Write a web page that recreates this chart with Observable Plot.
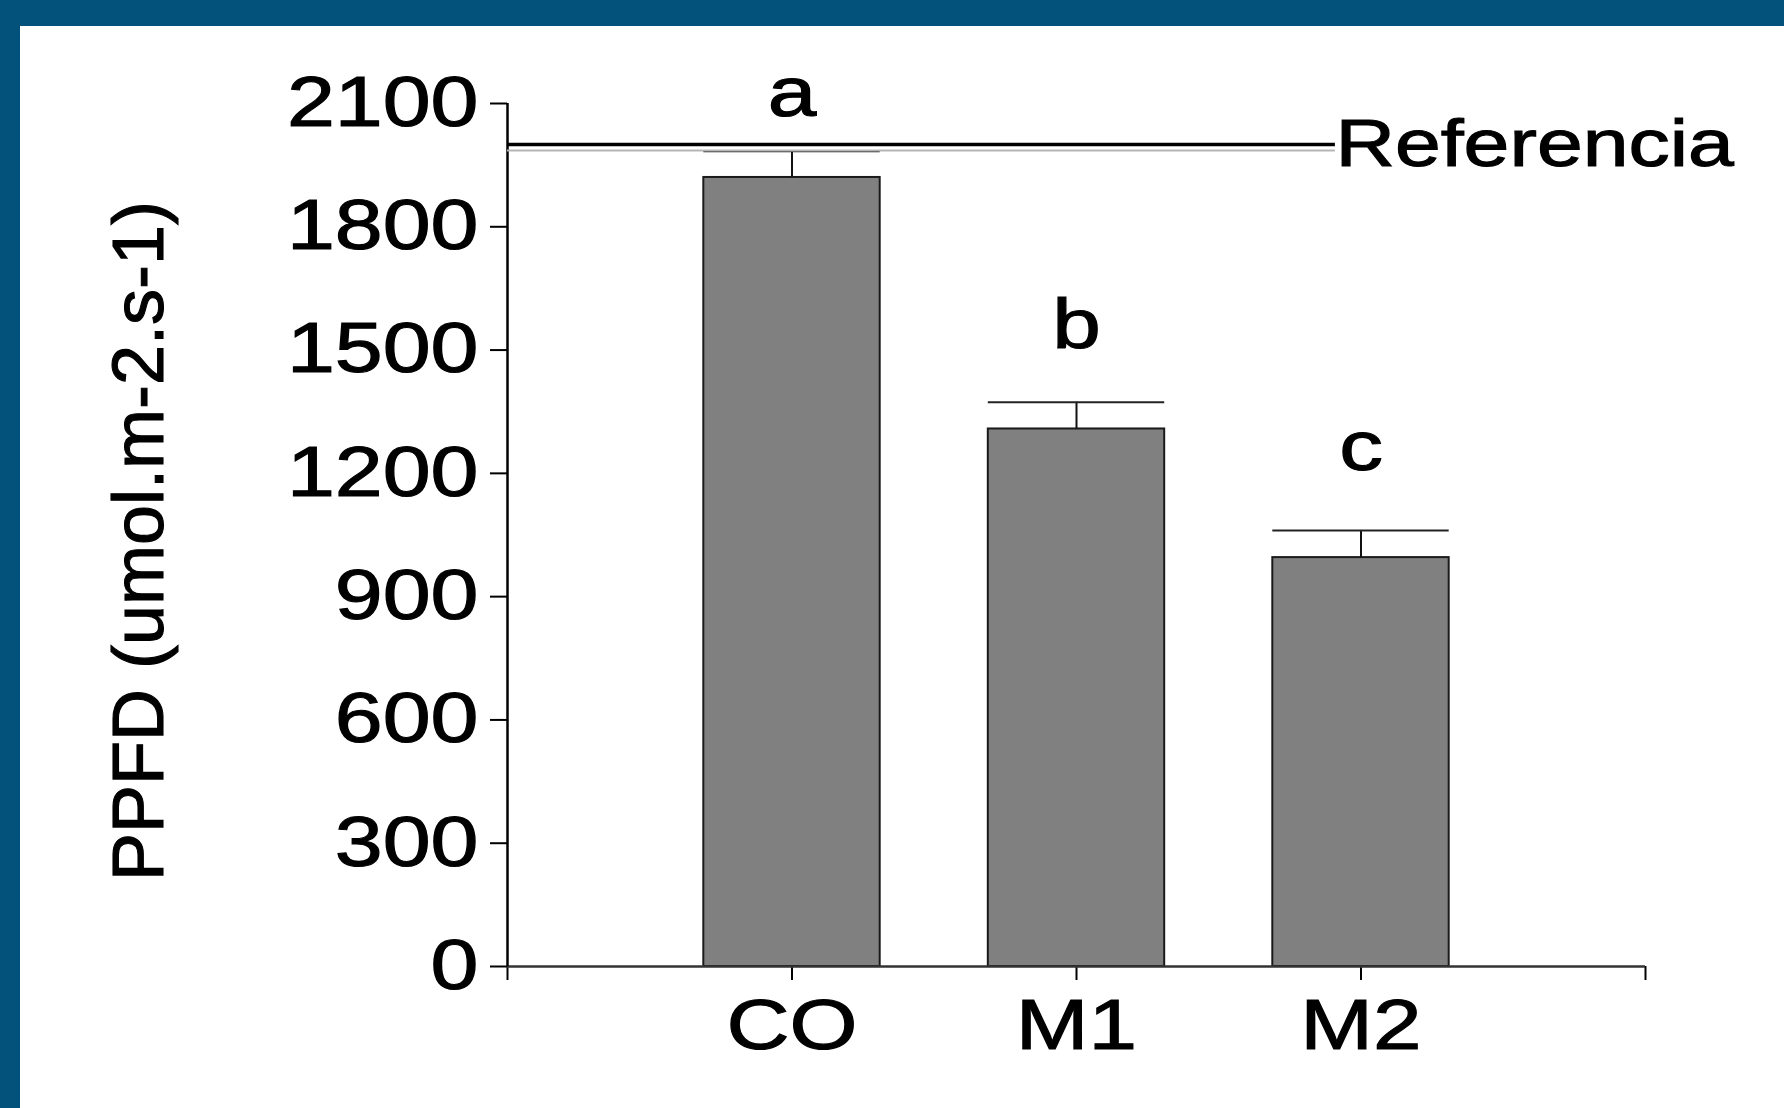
<!DOCTYPE html>
<html>
<head>
<meta charset="utf-8">
<script src="https://cdn.jsdelivr.net/npm/d3@7"></script>
<script src="https://cdn.jsdelivr.net/npm/@observablehq/plot@0.6"></script>
<style>
  html, body { margin: 0; padding: 0; background: #ffffff; }
  #page { position: relative; width: 1784px; height: 1108px; background: #ffffff; overflow: hidden; }
  #bandTop { position: absolute; left: 0; top: 0; width: 1784px; height: 26px; background: #02527b; }
  #bandLeft { position: absolute; left: 0; top: 0; width: 20px; height: 1108px; background: #02527b; }
  #chart { position: absolute; left: 0; top: 0; }
  #chart text { stroke: #000; stroke-width: 1.1px; }
</style>
</head>
<body>
<div id="page">
  <div id="bandTop"></div>
  <div id="bandLeft"></div>
  <div id="chart"></div>
</div>
<script>
// ---- data ----
const categories = ["CO", "M1", "M2"];
const means = [1920, 1308, 995];
const errors = [64, 65, 66];
const letters = ["a", "b", "c"];
const letterY = [2125, 1561, 1263];
const yTicks = [0, 300, 600, 900, 1200, 1500, 1800, 2100];
const xTicks = [0, 1, 2, 3, 4];
const refValue = 2000;
const refLabel = "Referencia";
const refEnd = 2.91;
const yLabel = "PPFD (umol.m-2.s-1)";

// ---- table built from the arrays ----
const data = categories.map((c, i) => ({
  cat: c, pos: i + 1, mean: means[i], se: errors[i], letter: letters[i], ly: letterY[i]
}));
const half = 0.31; // half bar width in x units (style)

const chart = Plot.plot({
  width: 1784,
  height: 1108,
  marginLeft: 507,
  marginRight: 139,
  marginTop: 103,
  marginBottom: 142,
  style: { background: "transparent", fontFamily: "'Liberation Sans', Arial, sans-serif", fontSize: "70px", color: "#000", overflow: "visible" },
  x: { domain: [0, 4], axis: null },
  y: { domain: [0, 2100], axis: null },
  marks: [
    Plot.axisY({ ticks: yTicks, tickSize: 17, tickPadding: 12, strokeWidth: 2, fontSize: 70, label: null,
                 tickFormat: d => String(d) }),
    Plot.axisX({ ticks: xTicks, tickSize: 14, tickPadding: 18, strokeWidth: 2, fontSize: 71, label: null,
                 tickFormat: i => categories[i - 1] ?? "" }),
    Plot.rectY(data, { x1: d => d.pos - half, x2: d => d.pos + half, y: "mean",
                       fill: "#808080", stroke: "#1a1a1a", strokeWidth: 2 }),
    Plot.ruleX(data, { x: "pos", y1: "mean", y2: d => d.mean + d.se, stroke: "#111", strokeWidth: 2 }),
    Plot.ruleY(data, { y: d => d.mean + d.se, x1: d => d.pos - half, x2: d => d.pos + half, stroke: "#222", strokeWidth: 2 }),
    Plot.ruleY([0], { stroke: "#333", strokeWidth: 2.5 }),
    Plot.ruleX([0], { stroke: "#000", strokeWidth: 2.5 }),
    Plot.ruleY([refValue], { x1: 0, x2: refEnd, dy: 6, stroke: "#b5b5b5", strokeWidth: 2 }),
    Plot.ruleY([refValue], { x1: 0, x2: refEnd, stroke: "#000", strokeWidth: 3.5 }),
    Plot.text([refLabel], { x: refEnd, y: refValue, text: d => d, textAnchor: "start", fontSize: 67, fill: "#000" }),
    Plot.text(data, { x: "pos", y: "ly", text: "letter", fontSize: 71, fill: "#000" }),
    Plot.text([yLabel], { frameAnchor: "left", textAnchor: "middle", text: d => d, rotate: -90,
                          dx: -368, dy: 6, fontSize: 72, fill: "#000" })
  ]
});

document.getElementById("chart").append(chart);

// the reference's glyphs are horizontally widened; reproduce with textLength
const STRETCH = 1.23;
chart.querySelectorAll("text").forEach(t => {
  if (t.textContent.startsWith("PPFD")) return;
  const len = t.getComputedTextLength();
  if (len > 0) {
    t.setAttribute("textLength", (len * STRETCH).toFixed(1));
    t.setAttribute("lengthAdjust", "spacingAndGlyphs");
  }
});
</script>
</body>
</html>
